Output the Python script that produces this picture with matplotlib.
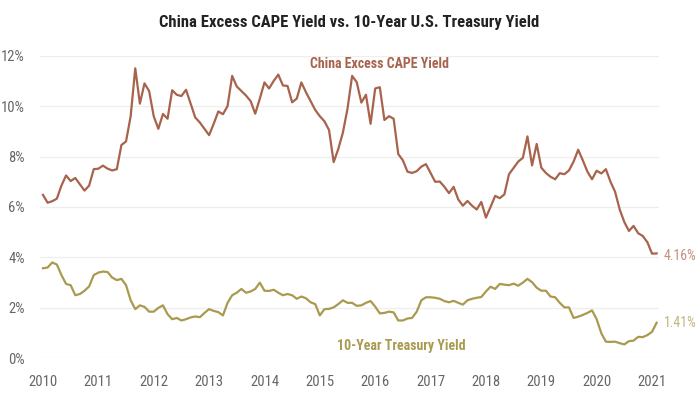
import numpy as np
import matplotlib
matplotlib.use("Agg")
import matplotlib.pyplot as plt

plt.rcParams['font.family'] = ['Roboto Condensed', 'DejaVu Sans']
plt.rcParams['font.stretch'] = 'condensed'

# monthly, Jan 2010 .. Feb 2021
cape = [6.48, 6.17, 6.23, 6.33, 6.85, 7.25, 7.03, 7.15, 6.9, 6.65, 6.85, 7.5,
        7.52, 7.64, 7.52, 7.45, 7.5, 8.46, 8.6, 9.6, 11.5, 10.1, 10.9, 10.6,
        9.6, 9.1, 9.69, 9.5, 10.63, 10.45, 10.4, 10.65, 10.1, 9.55, 9.35, 9.1,
        8.85, 9.3, 9.79, 9.68, 10.0, 11.2, 10.78, 10.6, 10.42, 10.2, 9.7, 10.3,
        10.94, 10.7, 11.0, 11.25, 10.82, 10.8, 10.15, 10.3, 10.94, 10.55, 10.2, 9.85,
        9.6, 9.4, 9.05, 7.78, 8.3, 8.95, 9.9, 11.2, 10.95, 10.14, 10.45, 9.3,
        10.7, 10.75, 9.45, 9.6, 9.5, 8.1, 7.85, 7.4, 7.35, 7.42, 7.6, 7.7,
        7.35, 7.0, 7.01, 6.8, 6.55, 6.8, 6.3, 6.05, 6.24, 6.05, 5.9, 6.2,
        5.58, 6.0, 6.44, 6.35, 6.5, 7.3, 7.55, 7.8, 7.95, 8.8, 7.65, 8.5,
        7.56, 7.35, 7.2, 7.1, 7.34, 7.3, 7.45, 7.8, 8.27, 7.85, 7.4, 7.1,
        7.44, 7.33, 7.5, 7.0, 6.6, 5.9, 5.4, 5.05, 5.25, 4.96, 4.85, 4.6,
        4.15, 4.16]

treasury = [3.57, 3.6, 3.8, 3.72, 3.3, 2.95, 2.9, 2.5, 2.55, 2.68, 2.85, 3.3,
            3.4, 3.44, 3.42, 3.2, 3.1, 3.15, 2.9, 2.3, 1.95, 2.1, 2.04, 1.85,
            1.85, 2.0, 2.1, 1.75, 1.55, 1.6, 1.5, 1.55, 1.62, 1.66, 1.63, 1.8,
            1.95, 1.88, 1.83, 1.7, 2.2, 2.5, 2.6, 2.75, 2.6, 2.65, 2.75, 3.0,
            2.68, 2.67, 2.72, 2.6, 2.5, 2.55, 2.5, 2.36, 2.45, 2.38, 2.22, 2.15,
            1.7, 1.95, 1.96, 2.02, 2.15, 2.3, 2.2, 2.2, 2.08, 2.1, 2.2, 2.27,
            2.05, 1.78, 1.8, 1.85, 1.82, 1.5, 1.5, 1.58, 1.6, 1.85, 2.3, 2.42,
            2.42, 2.4, 2.36, 2.27, 2.22, 2.28, 2.2, 2.13, 2.3, 2.36, 2.4, 2.43,
            2.65, 2.84, 2.75, 2.95, 2.92, 2.9, 2.96, 2.88, 3.0, 3.15, 3.02, 2.8,
            2.68, 2.68, 2.45, 2.42, 2.2, 2.02, 2.02, 1.6, 1.65, 1.72, 1.8, 1.9,
            1.55, 1.0, 0.66, 0.65, 0.66, 0.6, 0.55, 0.68, 0.7, 0.85, 0.84, 0.92,
            1.05, 1.41]

years = list(range(2010, 2022))
yticks = [0, 2, 4, 6, 8, 10, 12]

t = 2010 + np.arange(len(cape)) / 12.0

cape_color = '#A8634C'
tsy_color = '#A99A4F'

fig = plt.figure(figsize=(6.99, 3.99), dpi=100)
ax = fig.add_axes([40 / 699, 1 - 358.3 / 399, 619 / 699, 302.6 / 399])

ax.plot(t, cape, color=cape_color, lw=1.6, solid_joinstyle='round')
ax.plot(t, treasury, color=tsy_color, lw=1.6, solid_joinstyle='round')

ax.set_xlim(2009.946, 2021.126)
ax.set_ylim(0, 12)
ax.set_yticks(yticks)
ax.set_yticklabels([f'{v}%' for v in yticks])
ax.set_xticks(years)
ax.set_xticklabels([str(y) for y in years])
ax.tick_params(length=0, labelsize=10.5, colors='#666666')
ax.tick_params(axis='y', pad=11)
ax.tick_params(axis='x', pad=12)
ax.grid(axis='y', color='#EEEEEE', lw=0.9)
ax.set_axisbelow(True)
for s in ax.spines.values():
    s.set_visible(False)

ax.text(2016.07, 11.68, 'China Excess CAPE Yield', color=cape_color,
        fontsize=10, fontweight='bold', ha='center', va='center')
ax.text(2016.48, 0.49, '10-Year Treasury Yield', color=tsy_color,
        fontsize=10, fontweight='bold', ha='center', va='center')
ax.annotate(f'{cape[-1]:.2f}%', (t[-1], cape[-1]), xytext=(5, -2),
            textcoords='offset points', color='#C4917D', fontsize=10,
            va='center', annotation_clip=False)
ax.annotate(f'{treasury[-1]:.2f}%', (t[-1], treasury[-1]), xytext=(5, 0),
            textcoords='offset points', color='#C2B67E', fontsize=10,
            va='center', annotation_clip=False)

fig.text(0.5, 1 - 22 / 399, 'China Excess CAPE Yield vs. 10-Year U.S. Treasury Yield',
         ha='center', va='center', fontsize=12, fontweight='bold', color='#222222')

fig.savefig('out.png', dpi=100)
